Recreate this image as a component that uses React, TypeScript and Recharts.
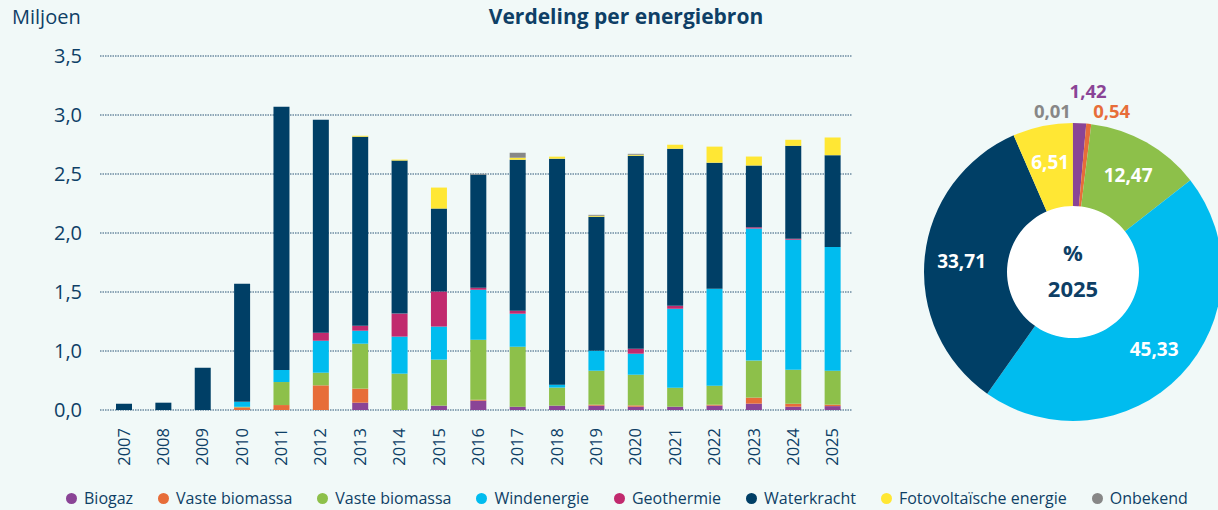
import React from "react";
import { Bar, BarChart, CartesianGrid, Cell, Pie, PieChart, XAxis, YAxis } from "recharts";

const years = [
    "2007", "2008", "2009", "2010", "2011", "2012", "2013", "2014", "2015", "2016",
    "2017", "2018", "2019", "2020", "2021", "2022", "2023", "2024", "2025",
];

const biogaz = [0, 0, 0, 0, 0, 0, 0.062, 0, 0.037, 0.079, 0.028, 0.037, 0.037, 0.028, 0.028, 0.037, 0.054, 0.028, 0.033];
const vasteBiomassaOranje = [0, 0, 0, 0.022, 0.042, 0.209, 0.119, 0, 0, 0.008, 0, 0, 0.008, 0.011, 0, 0.008, 0.051, 0.025, 0.0125];
const vasteBiomassaGroen = [0, 0, 0, 0.005, 0.195, 0.107, 0.381, 0.308, 0.39, 0.508, 0.508, 0.153, 0.288, 0.26, 0.161, 0.161, 0.314, 0.288, 0.288];
const windenergie = [0, 0, 0, 0.042, 0.102, 0.271, 0.11, 0.314, 0.28, 0.424, 0.28, 0.025, 0.169, 0.178, 0.669, 0.822, 1.119, 1.102, 1.047];
const geothermie = [0, 0, 0, 0, 0, 0.068, 0.042, 0.195, 0.297, 0.017, 0.025, 0, 0, 0.042, 0.025, 0, 0.011, 0.008, 0];
const waterkracht = [0.053, 0.062, 0.358, 1.0, 2.23, 1.805, 1.602, 1.297, 0.703, 0.958, 1.28, 1.915, 1.136, 1.636, 1.331, 1.068, 0.523, 0.788, 0.779];
const fotovoltaisch = [0, 0, 0, 0, 0, 0, 0.008, 0.008, 0.178, 0, 0.017, 0.017, 0.008, 0.008, 0.034, 0.136, 0.076, 0.051, 0.15];
const onbekend = [0, 0, 0, 0, 0, 0, 0, 0, 0, 0.008, 0.042, 0, 0.008, 0.008, 0, 0, 0, 0, 0.0002];

const yTicks = [0, 0.5, 1, 1.5, 2, 2.5, 3];
const yTickLabels = ["0,0", "1,0", "1,5", "2,0", "2,5", "3,0", "3,5"];

// aandeel 2025 in %
const pieNames = ["Biogaz", "Vaste biomassa", "Vaste biomassa", "Windenergie", "Waterkracht", "Fotovoltaïsche energie", "Onbekend"];
const pieValues = [1.42, 0.54, 12.47, 45.33, 33.71, 6.51, 0.01];

const NAVY = "#0e3f66";
const FONT = "'Open Sans', sans-serif";

const series = [
    { key: "biogaz", name: "Biogaz", color: "#8a4496", values: biogaz },
    { key: "biomassaOranje", name: "Vaste biomassa", color: "#e76d39", values: vasteBiomassaOranje },
    { key: "biomassaGroen", name: "Vaste biomassa", color: "#8dc04a", values: vasteBiomassaGroen },
    { key: "wind", name: "Windenergie", color: "#00bcef", values: windenergie },
    { key: "geo", name: "Geothermie", color: "#c12a6e", values: geothermie },
    { key: "water", name: "Waterkracht", color: "#003f66", values: waterkracht },
    { key: "pv", name: "Fotovoltaïsche energie", color: "#ffe734", values: fotovoltaisch },
    { key: "onbekend", name: "Onbekend", color: "#878787", values: onbekend },
];

const pieColors = ["#8a4496", "#e76d39", "#8dc04a", "#00bcef", "#003f66", "#ffe734", "#878787"];

const barData = years.map((year, i) => {
    const row: Record<string, string | number> = { year };
    series.forEach((s) => {
        row[s.key] = s.values[i];
    });
    return row;
});

const pieData = pieNames.map((name, i) => ({ name, value: pieValues[i] }));

const fmt = (v: number) => v.toFixed(2).replace(".", ",");

const YearTick = ({ x, y, payload }: any) => (
    <text
        x={x}
        y={y}
        transform={`rotate(-90 ${x} ${y})`}
        textAnchor="end"
        dy="0.36em"
        fill={NAVY}
        fontSize={16.5}
        fontFamily={FONT}
    >
        {payload.value}
    </text>
);

const RAD = Math.PI / 180;

const renderPieLabel = (props: any) => {
    const { cx, cy, midAngle, outerRadius, value, index } = props;
    if (value >= 5) {
        const r = 112;
        return (
            <text
                x={cx + r * Math.cos(-midAngle * RAD)}
                y={cy + r * Math.sin(-midAngle * RAD)}
                textAnchor="middle"
                dominantBaseline="central"
                fill="#ffffff"
                fontSize={19}
                fontWeight={700}
                fontFamily={FONT}
            >
                {fmt(value)}
            </text>
        );
    }
    // kleine aandelen: label buiten de ring, links of rechts van de top
    const angle = ((midAngle % 360) + 360) % 360;
    const r = value >= 1 ? outerRadius + 33 : outerRadius + 13;
    const anchor = value >= 1 ? "middle" : angle > 88 ? "end" : "start";
    const shift = value >= 1 ? 7 : angle > 88 ? -2 : 3;
    return (
        <text
            x={cx + r * Math.cos(-angle * RAD) + shift}
            y={cy + r * Math.sin(-angle * RAD)}
            textAnchor={anchor}
            dominantBaseline="central"
            fill={pieColors[index]}
            fontSize={18.5}
            fontWeight={700}
            fontFamily={FONT}
        >
            {fmt(value)}
        </text>
    );
};

export default function App() {
    return (
        <div
            style={{
                position: "relative",
                width: 1218,
                height: 510,
                overflow: "hidden",
                background: "#f1f9f8",
                fontFamily: FONT,
                color: NAVY,
            }}
        >
            <style>{"body{margin:0}"}</style>
            <div style={{ position: "absolute", left: 12, top: 3, fontSize: 20 }}>Miljoen</div>
            <div
                style={{
                    position: "absolute",
                    left: 426,
                    width: 400,
                    top: 2,
                    textAlign: "center",
                    fontSize: 21,
                    fontWeight: 700,
                }}
            >
                Verdeling per energiebron
            </div>

            <div style={{ position: "absolute", left: 0, top: 0 }}>
                <BarChart
                    width={870}
                    height={470}
                    data={barData}
                    margin={{ top: 56, right: 18, bottom: 0, left: 0 }}
                    barSize={16}
                >
                    <CartesianGrid vertical={false} stroke="#2b5576" strokeDasharray="1.5 1" />
                    <XAxis
                        dataKey="year"
                        height={60}
                        axisLine={false}
                        tickLine={false}
                        tickSize={0}
                        tickMargin={18}
                        padding={{ left: 4, right: 0 }}
                        interval={0}
                        tick={<YearTick />}
                    />
                    <YAxis
                        width={100}
                        domain={[0, 3]}
                        ticks={yTicks}
                        axisLine={false}
                        tickLine={false}
                        tickSize={0}
                        tickMargin={18}
                        tick={{ fill: NAVY, fontSize: 20, fontFamily: FONT }}
                        tickFormatter={(v: number, i: number) => yTickLabels[i]}
                    />
                    {series.map((s) => (
                        <Bar
                            key={s.key}
                            dataKey={s.key}
                            name={s.name}
                            stackId="a"
                            fill={s.color}
                            isAnimationActive={false}
                        />
                    ))}
                </BarChart>
            </div>

            <div style={{ position: "absolute", left: 903, top: 62 }}>
                <PieChart width={340} height={360} margin={{ top: 0, right: 0, bottom: 0, left: 0 }}>
                    <Pie
                        data={pieData}
                        dataKey="value"
                        nameKey="name"
                        cx={170}
                        cy={210}
                        innerRadius={0}
                        outerRadius={149}
                        startAngle={90}
                        endAngle={-270}
                        stroke="none"
                        label={renderPieLabel}
                        labelLine={false}
                        isAnimationActive={false}
                    >
                        {pieData.map((entry, index) => (
                            <Cell key={`cell-${index}`} fill={pieColors[index]} />
                        ))}
                    </Pie>
                    <Pie
                        data={[{ name: "midden", value: 1 }]}
                        dataKey="value"
                        cx={170}
                        cy={210}
                        outerRadius={66}
                        fill="#ffffff"
                        stroke="none"
                        isAnimationActive={false}
                    />
                </PieChart>
            </div>
            <div
                style={{
                    position: "absolute",
                    left: 1023,
                    width: 100,
                    top: 234,
                    textAlign: "center",
                    fontSize: 22,
                    fontWeight: 700,
                    lineHeight: "36px",
                }}
            >
                <div>%</div>
                <div>2025</div>
            </div>

            <div
                style={{
                    position: "absolute",
                    left: 66,
                    top: 487,
                    display: "flex",
                    alignItems: "center",
                    gap: 25,
                    fontSize: 16,
                    whiteSpace: "nowrap",
                }}
            >
                {series.map((s) => (
                    <div key={s.key} style={{ display: "flex", alignItems: "center", gap: 7 }}>
                        <span
                            style={{
                                width: 11,
                                height: 11,
                                borderRadius: "50%",
                                background: s.color,
                                display: "inline-block",
                            }}
                        />
                        <span>{s.name}</span>
                    </div>
                ))}
            </div>
        </div>
    );
}
